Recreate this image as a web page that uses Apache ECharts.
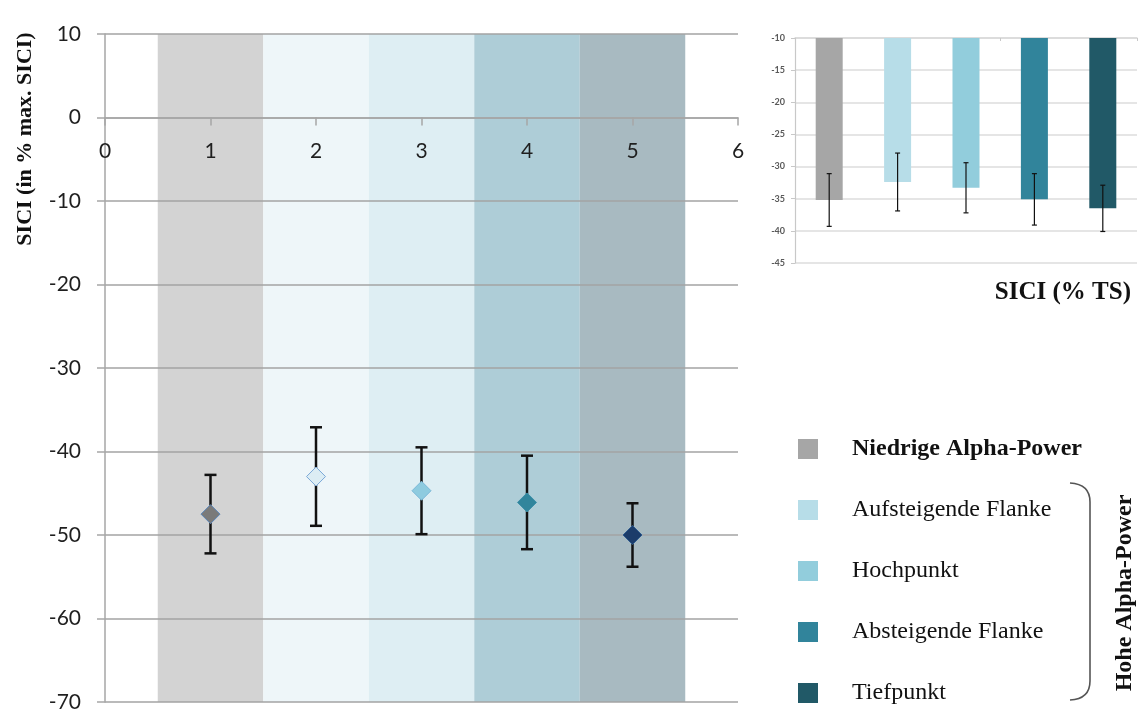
<!DOCTYPE html>
<html>
<head>
<meta charset="utf-8">
<script src="https://cdn.jsdelivr.net/npm/echarts@6/dist/echarts.min.js"></script>
<style>
  html, body { margin: 0; padding: 0; background: #fff; }
  #chart { width: 1140px; height: 713px; }
</style>
</head>
<body>
<div id="chart"></div>
<script>
// Alpha-phase positions on the main x axis
const phases = [1, 2, 3, 4, 5];
const phaseNames = ['Niedrige Alpha-Power', 'Aufsteigende Flanke', 'Hochpunkt', 'Absteigende Flanke', 'Tiefpunkt'];

// Main panel: SICI in % of max. SICI (mean and error half-width)
const siciMean = [-47.5, -43.0, -44.7, -46.1, -50.0];
const siciErr = [4.7, 5.9, 5.2, 5.6, 3.8];

// Inset: SICI in % of test stimulus (mean and error half-width)
const tsMean = [-35.2, -32.4, -33.3, -35.1, -36.5];
const tsErr = [4.1, 4.5, 3.9, 4.0, 3.6];

// Axis ranges
const mainY = { min: -70, max: 10, interval: 10 };
const mainX = { min: 0, max: 6, interval: 1 };
const insetY = { min: -45, max: -10, interval: 5 };

// Colours
const bandColors = ['#d3d3d3', '#eef6f9', '#deeef3', '#aecdd7', '#a8bac1'];
const markerColors = ['#7a7a7a', '#dcedf4', '#8ecbdf', '#31859c', '#1c3c6a'];
const markerBorders = ['#5b86b8', '#7aa8d8', '#7ab8d8', '#3b8fa8', '#2d5a8e'];
const barColors = ['#a6a6a6', '#b7dde8', '#92cddc', '#31849b', '#215967'];

const serif = '"Liberation Serif", "Times New Roman", serif';
const sans = 'Lato, "Open Sans", sans-serif';

// Main plot box
const mainGrid = { left: 105, right: 402, top: 34, bottom: 11 };
const mainHeight = 713 - mainGrid.top - mainGrid.bottom;
// The category axis crosses the value axis at 0: shift it up from the grid bottom
const zeroOffset = -mainHeight * (0 - mainY.min) / (mainY.max - mainY.min);

const chart = echarts.init(document.getElementById('chart'), null, { renderer: 'canvas' });

// Shaded column behind each phase
const bandSeries = {
  type: 'custom',
  xAxisIndex: 0, yAxisIndex: 0,
  z: -1,
  silent: true,
  data: phases.map(p => [p]),
  renderItem(params, api) {
    const x = api.value(0);
    const tl = api.coord([x - 0.5, mainY.max]);
    const br = api.coord([x + 0.5, mainY.min]);
    return {
      type: 'rect',
      shape: { x: tl[0], y: tl[1], width: br[0] - tl[0], height: br[1] - tl[1] },
      style: { fill: bandColors[params.dataIndex] }
    };
  }
};

function errorBarRenderer(capHalf, width) {
  return function (params, api) {
    const x = api.value(0);
    const lo = api.coord([x, api.value(1)]);
    const hi = api.coord([x, api.value(2)]);
    const style = { stroke: '#111', lineWidth: width };
    return {
      type: 'group',
      children: [
        { type: 'line', shape: { x1: hi[0], y1: hi[1], x2: lo[0], y2: lo[1] }, style },
        { type: 'line', shape: { x1: hi[0] - capHalf, y1: hi[1], x2: hi[0] + capHalf, y2: hi[1] }, style },
        { type: 'line', shape: { x1: lo[0] - capHalf, y1: lo[1], x2: lo[0] + capHalf, y2: lo[1] }, style }
      ]
    };
  };
}

const mainErrSeries = {
  type: 'custom',
  xAxisIndex: 0, yAxisIndex: 0,
  z: 3,
  silent: true,
  data: phases.map((p, i) => [p, siciMean[i] - siciErr[i], siciMean[i] + siciErr[i]]),
  encode: { x: 0, y: [1, 2] },
  renderItem: errorBarRenderer(6, 2.5)
};

const mainScatter = {
  type: 'scatter',
  xAxisIndex: 0, yAxisIndex: 0,
  z: 4,
  symbol: 'diamond',
  symbolSize: 19,
  data: phases.map((p, i) => ({
    value: [p, siciMean[i]],
    itemStyle: { color: markerColors[i], borderColor: markerBorders[i], borderWidth: 1, opacity: 1 }
  }))
};

// Inset bars: one series per phase so each gets its own legend entry
const insetBars = phaseNames.map((name, i) => ({
  type: 'bar',
  name,
  xAxisIndex: 1, yAxisIndex: 1,
  barWidth: 27,
  barGap: '-100%',
  clip: true,
  itemStyle: { color: barColors[i] },
  data: tsMean.map((v, j) => (j === i ? v : '-'))
}));

const insetErrSeries = {
  type: 'custom',
  xAxisIndex: 1, yAxisIndex: 1,
  z: 5,
  silent: true,
  data: tsMean.map((m, i) => [i, m - tsErr[i], m + tsErr[i]]),
  encode: { x: 0, y: [1, 2] },
  renderItem: errorBarRenderer(2.5, 1.2)
};

const option = {
  backgroundColor: '#fff',
  animation: false,
  grid: [
    mainGrid,
    { left: 795, right: 3, top: 38, bottom: 450 }
  ],
  xAxis: [
    {
      gridIndex: 0, type: 'value', position: 'bottom',
      offset: zeroOffset,
      min: mainX.min, max: mainX.max, interval: mainX.interval,
      axisLine: { show: true, onZero: false, lineStyle: { color: '#a6a6a6', width: 1.5 } },
      axisTick: { show: true, length: 8, lineStyle: { color: '#a6a6a6', width: 1.5 } },
      axisLabel: { margin: 23, fontSize: 21, fontFamily: sans, color: '#1f1f1f' },
      splitLine: { show: false }
    },
    {
      gridIndex: 1, type: 'category', position: 'top',
      data: phaseNames,
      axisLine: { show: true, lineStyle: { color: '#d9d9d9', width: 1.5 } },
      axisTick: { show: true, inside: true, length: 3, lineStyle: { color: '#c8c8c8' } },
      axisLabel: { show: false },
      splitLine: { show: false }
    }
  ],
  yAxis: [
    {
      gridIndex: 0, type: 'value',
      min: mainY.min, max: mainY.max, interval: mainY.interval,
      axisLine: { show: true, onZero: false, lineStyle: { color: '#a6a6a6', width: 1.5 } },
      axisTick: { show: true, length: 8, lineStyle: { color: '#a6a6a6', width: 1.5 } },
      axisLabel: { margin: 24, fontSize: 21, fontFamily: sans, color: '#1f1f1f' },
      splitLine: { show: true, lineStyle: { color: '#a3a3a3', width: 1.5 } }
    },
    {
      gridIndex: 1, type: 'value',
      min: insetY.min, max: insetY.max, interval: insetY.interval,
      axisLine: { show: true, lineStyle: { color: '#c8c8c8', width: 1.2 } },
      axisTick: { show: true, length: 4, lineStyle: { color: '#c8c8c8' } },
      axisLabel: { margin: 10, fontSize: 9, fontFamily: sans, color: '#595959', fontWeight: 'bold' },
      splitLine: { show: true, lineStyle: { color: '#dcdcdc', width: 1.5 } }
    }
  ],
  legend: {
    orient: 'vertical',
    left: 798, top: 437,
    padding: 0,
    itemWidth: 20, itemHeight: 20,
    itemGap: 37,
    icon: 'rect',
    selectedMode: false,
    textStyle: { fontFamily: serif, fontSize: 24, color: '#111', padding: [0, 0, 0, 29] },
    data: phaseNames.map((n, i) => (i === 0 ? { name: n, textStyle: { fontWeight: 'bold' } } : { name: n }))
  },
  graphic: [
    {
      type: 'text', x: 25, y: 139, rotation: Math.PI / 2,
      style: { text: 'SICI (in % max. SICI)', x: 0, y: 0, align: 'center', verticalAlign: 'middle',
               font: 'bold 22px ' + serif, fill: '#111' }
    },
    {
      type: 'text', x: 1131, y: 293,
      style: { text: 'SICI (% TS)', align: 'right', verticalAlign: 'middle',
               font: 'bold 25px ' + serif, fill: '#111' }
    },
    {
      type: 'group',
      children: [
        { type: 'bezierCurve', shape: { x1: 1070, y1: 483, cpx1: 1090, cpy1: 484, x2: 1090, y2: 502 },
          style: { stroke: '#555', lineWidth: 1.6, fill: null } },
        { type: 'line', shape: { x1: 1090, y1: 502, x2: 1090, y2: 681 },
          style: { stroke: '#555', lineWidth: 1.6 } },
        { type: 'bezierCurve', shape: { x1: 1090, y1: 681, cpx1: 1090, cpy1: 699, x2: 1070, y2: 700 },
          style: { stroke: '#555', lineWidth: 1.6, fill: null } }
      ]
    },
    {
      type: 'text', x: 1125, y: 593, rotation: Math.PI / 2,
      style: { text: 'Hohe Alpha-Power', x: 0, y: 0, align: 'center', verticalAlign: 'middle',
               font: 'bold 24px ' + serif, fill: '#111' }
    }
  ],
  series: [bandSeries, mainErrSeries, mainScatter, ...insetBars, insetErrSeries]
};

chart.setOption(option);
</script>
</body>
</html>
